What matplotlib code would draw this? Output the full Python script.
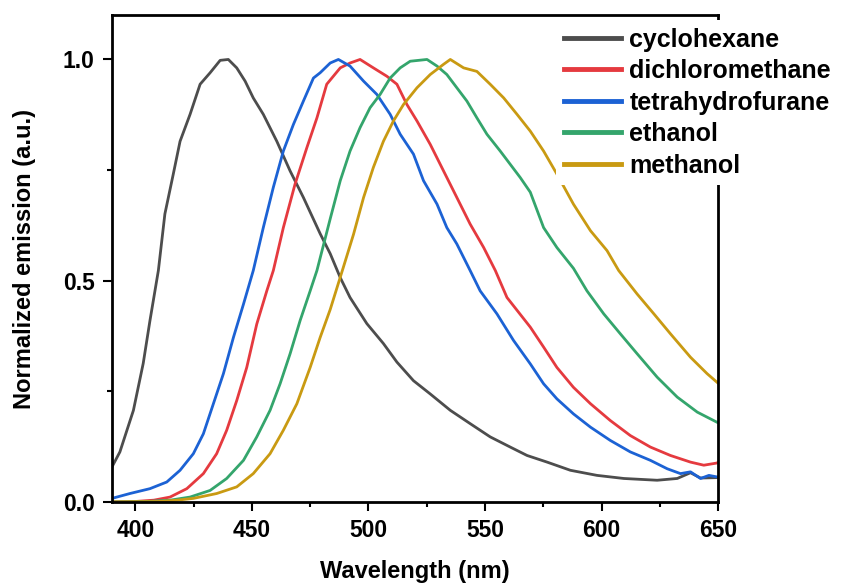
import numpy as np
import matplotlib
matplotlib.use('Agg')
import matplotlib.pyplot as plt
from matplotlib.ticker import MultipleLocator

# Spectra (wavelength in nm, normalized emission)
cyc_x = [390, 393.4, 399.2, 403.4, 406.3, 409.9, 412.7, 416.3, 419.2, 423.5, 427.8, 432.1,
         436.4, 439.9, 443.5, 447.1, 450.6, 454.9, 460.7, 466.4, 472.1, 479.3, 483.6, 487.9,
         492.1, 499.3, 506.4, 512.2, 519.3, 526.5, 535.1, 543.6, 552.2, 560.8, 568.0, 576.6,
         586.6, 598.0, 609.5, 623.8, 632.4, 638.1, 642.4, 650]
cyc_y = [0.079, 0.113, 0.207, 0.313, 0.41, 0.523, 0.651, 0.741, 0.815, 0.876, 0.944, 0.970,
         0.998, 1.0, 0.981, 0.951, 0.913, 0.876, 0.815, 0.748, 0.688, 0.606, 0.561, 0.507,
         0.462, 0.403, 0.358, 0.316, 0.274, 0.244, 0.207, 0.177, 0.147, 0.124, 0.105, 0.090,
         0.0715, 0.060, 0.053, 0.049, 0.053, 0.066, 0.054, 0.055]

dcm_x = [390, 400, 408, 414.9, 422.1, 429.2, 434.9, 439.2, 443.5, 447.8, 452.1, 456.4, 459.2,
         463.5, 468.5, 473.6, 477.9, 482.1, 487.9, 492.1, 496.4, 502.1, 507.9, 512.2, 516.5,
         520.8, 526.5, 532.2, 537.9, 543.6, 549.4, 554.4, 559.4, 569.4, 575.1, 580.8, 587.9,
         595.2, 603.7, 612.3, 620.9, 629.5, 638.1, 643.8, 649.5, 650]
dcm_y = [0.0, 0.001, 0.004, 0.011, 0.030, 0.064, 0.109, 0.162, 0.229, 0.304, 0.402, 0.477, 0.523,
         0.620, 0.718, 0.801, 0.868, 0.944, 0.981, 0.992, 1.0, 0.981, 0.962, 0.944, 0.898,
         0.861, 0.808, 0.748, 0.688, 0.628, 0.575, 0.523, 0.462, 0.395, 0.350, 0.304, 0.259,
         0.222, 0.184, 0.150, 0.124, 0.105, 0.090, 0.083, 0.088, 0.090]

thf_x = [390, 397.7, 406.3, 413.5, 419.2, 424.9, 429.2, 433.5, 437.8, 442.1, 446.4, 450.6,
         454.9, 459.2, 463.5, 467.8, 472.1, 476.4, 479.3, 483.6, 487.1, 492.1, 497.9, 503.6,
         509.3, 513.6, 519.3, 523.6, 529.4, 533.6, 537.9, 543.6, 547.9, 555.1, 562.2, 569.4,
         575.1, 580.8, 587.9, 595.2, 603.7, 612.3, 620.9, 628.1, 633.8, 638.1, 642.4, 646, 650]
thf_y = [0.008, 0.019, 0.030, 0.045, 0.0715, 0.109, 0.154, 0.222, 0.290, 0.372, 0.447, 0.523,
         0.620, 0.711, 0.793, 0.853, 0.906, 0.958, 0.970, 0.992, 1.0, 0.985, 0.951, 0.921,
         0.876, 0.831, 0.786, 0.726, 0.673, 0.620, 0.583, 0.523, 0.477, 0.425, 0.365, 0.312,
         0.267, 0.233, 0.199, 0.169, 0.139, 0.113, 0.094, 0.075, 0.064, 0.068, 0.053, 0.060, 0.056]

eth_x = [390, 405, 415, 423.5, 432.1, 439.2, 446.4, 452.1, 457.8, 462.1, 466.4, 470.7, 475.0,
         477.9, 483.6, 487.9, 492.1, 496.4, 500.7, 505.0, 509.3, 513.6, 517.9, 525.1, 529.4,
         533.6, 537.9, 542.2, 546.5, 550.8, 556.5, 560.8, 565.1, 569.4, 575.1, 580.8, 587.9,
         593.7, 600.9, 608.0, 615.2, 623.8, 632.4, 641.0, 649.5, 650]
eth_y = [0.0, 0.001, 0.004, 0.011, 0.026, 0.053, 0.094, 0.147, 0.207, 0.267, 0.335, 0.410, 0.477,
         0.523, 0.640, 0.726, 0.793, 0.846, 0.891, 0.921, 0.958, 0.981, 0.996, 1.0, 0.985,
         0.966, 0.936, 0.906, 0.868, 0.831, 0.793, 0.763, 0.733, 0.700, 0.620, 0.575, 0.528,
         0.477, 0.425, 0.380, 0.335, 0.282, 0.237, 0.203, 0.180, 0.179]

met_x = [390, 410, 418, 424.9, 434.9, 443.5, 450.6, 457.8, 463.5, 469.3, 475.0, 479.3, 483.6,
         488.8, 493.6, 497.9, 502.1, 506.4, 510.7, 515.0, 520.8, 526.5, 532.2, 535.1, 540.8,
         546.5, 552.2, 558.0, 563.7, 569.4, 575.1, 580.8, 587.9, 595.2, 602.3, 607.3, 615.2,
         622.4, 629.5, 638.1, 645.2, 650]
met_y = [0.0, 0.001, 0.004, 0.008, 0.019, 0.034, 0.064, 0.109, 0.162, 0.222, 0.304, 0.372, 0.435,
         0.523, 0.605, 0.688, 0.756, 0.815, 0.861, 0.898, 0.936, 0.966, 0.989, 1.0, 0.981,
         0.973, 0.944, 0.913, 0.876, 0.838, 0.793, 0.741, 0.673, 0.613, 0.568, 0.523, 0.470,
         0.425, 0.380, 0.327, 0.290, 0.268]

labels = ['cyclohexane', 'dichloromethane', 'tetrahydrofurane', 'ethanol', 'methanol']
colors = ['#4d4d4d', '#e53a3f', '#1c62d4', '#34a56c', '#c99a12']

plt.rcParams['font.family'] = ['Liberation Sans', 'DejaVu Sans']
plt.rcParams['font.weight'] = 'bold'

fig = plt.figure(figsize=(8.45, 5.85), dpi=100)
ax = fig.add_axes([0.1325, 0.142, 0.7175, 0.832])

series = [(cyc_x, cyc_y), (dcm_x, dcm_y), (thf_x, thf_y), (eth_x, eth_y), (met_x, met_y)]
for (xs, ys), lab, c in zip(series, labels, colors):
    ax.plot(xs, ys, color=c, lw=2.0, label=lab)

ax.set_xlim(390, 650)
ax.set_ylim(0, 1.1)
ax.xaxis.set_major_locator(MultipleLocator(50))
ax.xaxis.set_minor_locator(MultipleLocator(25))
ax.yaxis.set_minor_locator(MultipleLocator(0.25))
ax.set_yticks([0.0, 0.5, 1.0])
ax.set_yticklabels(['0.0', '0.5', '1.0'])

for s in ax.spines.values():
    s.set_linewidth(2.0)
ax.tick_params(which='major', direction='out', length=6.5, width=1.5, labelsize=16.5)
ax.tick_params(axis='x', which='major', pad=6)
ax.tick_params(axis='y', which='major', pad=6)
ax.tick_params(which='minor', direction='out', length=3.5, width=1.5)

ax.set_xlabel('Wavelength (nm)', fontsize=17, fontweight='bold', labelpad=13)
ax.set_ylabel('Normalized emission (a.u.)', fontsize=17, fontweight='bold', labelpad=19)

leg = ax.legend(loc='upper left', bbox_to_anchor=(0.733, 0.99), borderaxespad=0,
                frameon=True, fancybox=False, framealpha=1, edgecolor='none',
                prop={'size': 18, 'weight': 'bold'}, handlelength=2.3,
                handletextpad=0.32, labelspacing=0.3, borderpad=0.3)
for line in leg.get_lines():
    line.set_linewidth(3.5)

plt.savefig('out.png', dpi=100)
